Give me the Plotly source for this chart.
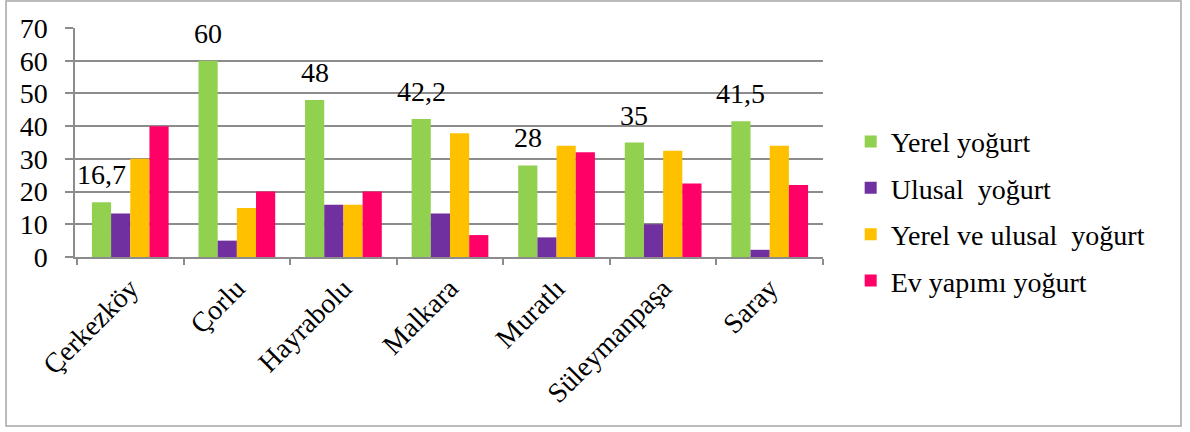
import plotly.graph_objects as go

# Districts (x categories)
districts = ["Çerkezköy", "Çorlu", "Hayrabolu", "Malkara", "Muratlı", "Süleymanpaşa", "Saray"]

# Share of respondents (%) by preferred yogurt type
yerel = [16.7, 60, 48, 42.2, 28, 35, 41.5]
ulusal = [13.3, 5, 16, 13.3, 6, 10, 2.2]
yerel_ulusal = [30, 15, 16, 37.8, 34, 32.5, 34]
ev_yapimi = [40, 20, 20, 6.7, 32, 22.5, 22]

# Labels shown above the "Yerel yoğurt" bars
yerel_labels = ["16,7", "60", "48", "42,2", "28", "35", "41,5"]

series = [
    ("Yerel yoğurt", yerel, "#92D050"),
    ("Ulusal  yoğurt", ulusal, "#7030A0"),
    ("Yerel ve ulusal  yoğurt", yerel_ulusal, "#FFC000"),
    ("Ev yapımı yoğurt", ev_yapimi, "#FF0066"),
]

FONT = "Liberation Serif"
FS = 28
BARGAP = 0.28

fig = go.Figure()
for i, (name, vals, col) in enumerate(series):
    fig.add_trace(go.Bar(
        x=districts, y=vals, name=name, marker_color=col,
        marker_line_width=0, legendgroup=f"g{i}",
    ))

# Value labels centred over the first bar of each group
bar_w = (1 - BARGAP) / len(series)
for i, lab in enumerate(yerel_labels):
    fig.add_annotation(
        x=i - 1.5 * bar_w, y=yerel[i], text=lab, showarrow=False,
        yanchor="bottom", yshift=10, font=dict(family=FONT, size=FS, color="#000"),
    )

# Outer frame around the whole chart
fig.add_shape(type="rect", xref="paper", yref="paper",
              x0=-0.0922, x1=1.4786, y0=-0.738, y1=1.118,
              line=dict(color="#A6A6A6", width=1.5), fillcolor="rgba(0,0,0,0)")

fig.update_layout(
    width=1190, height=432,
    margin=dict(l=75, r=367, t=28, b=175),
    barmode="group", bargap=BARGAP, bargroupgap=0,
    plot_bgcolor="white", paper_bgcolor="white",
    font=dict(family=FONT, size=FS, color="#000"),
    legend=dict(
        x=1.037, y=0.2, xanchor="left", yanchor="middle",
        font=dict(family=FONT, size=FS, color="#000"), tracegroupgap=7,
        bgcolor="rgba(0,0,0,0)",
    ),
)
fig.update_yaxes(
    range=[0, 70], dtick=10, showgrid=True, gridcolor="#8C8C8C", gridwidth=1.5,
    showline=True, linecolor="#8C8C8C", linewidth=1.5,
    ticks="outside", ticklen=8, tickcolor="#8C8C8C", tickwidth=1.5,
    tickfont=dict(family=FONT, size=FS, color="#000"), zeroline=False, ticklabelstandoff=12,
)
fig.update_xaxes(
    showline=True, linecolor="#8C8C8C", linewidth=1.5,
    ticks="outside", tickson="boundaries", ticklen=6, tickcolor="#8C8C8C", tickwidth=1.5,
    tickangle=-45, tickfont=dict(family=FONT, size=FS, color="#000"), ticklabelstandoff=2,
)

fig.write_html("out.html")
